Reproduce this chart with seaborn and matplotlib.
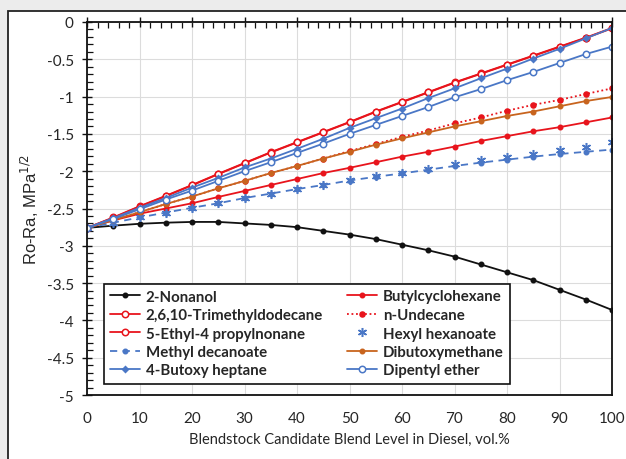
import matplotlib
matplotlib.use("Agg")
import matplotlib.pyplot as plt
import seaborn as sns
import numpy as np
from matplotlib.patches import Rectangle
from matplotlib.ticker import MultipleLocator

sns.set_style("white")
plt.rcParams["font.family"] = ["Lato", "DejaVu Sans"]

blend = [0, 5, 10, 15, 20, 25, 30, 35, 40, 45, 50, 55, 60, 65, 70, 75, 80, 85, 90, 95, 100]

nonanol = [-2.76, -2.73, -2.705, -2.69, -2.68, -2.68, -2.70, -2.72, -2.75, -2.80, -2.85,
           -2.91, -2.985, -3.06, -3.145, -3.25, -3.355, -3.46, -3.59, -3.72, -3.86]
butylcyclohexane = [-2.76, -2.66, -2.57, -2.50, -2.43, -2.345, -2.265, -2.185, -2.105, -2.025, -1.955,
                    -1.88, -1.805, -1.74, -1.67, -1.595, -1.53, -1.465, -1.41, -1.345, -1.28]
trimethyldodecane = [-2.76, -2.62, -2.47, -2.33, -2.185, -2.035, -1.89, -1.745, -1.61, -1.475, -1.34,
                     -1.20, -1.07, -0.94, -0.81, -0.69, -0.57, -0.45, -0.33, -0.21, -0.08]
undecane = [-2.76, -2.655, -2.55, -2.44, -2.34, -2.23, -2.13, -2.025, -1.93, -1.83, -1.73,
            -1.635, -1.54, -1.455, -1.36, -1.28, -1.19, -1.11, -1.045, -0.965, -0.89]
ethylpropylnonane = [-2.76, -2.625, -2.475, -2.335, -2.19, -2.04, -1.895, -1.75, -1.615, -1.48, -1.345,
                     -1.205, -1.075, -0.945, -0.815, -0.695, -0.575, -0.455, -0.335, -0.215, -0.085]
hexyl_hexanoate = [-2.76, -2.69, -2.62, -2.555, -2.49, -2.43, -2.36, -2.30, -2.24, -2.185, -2.12,
                   -2.065, -2.02, -1.97, -1.91, -1.85, -1.81, -1.77, -1.71, -1.675, -1.61]
methyl_decanoate = [-2.76, -2.69, -2.62, -2.555, -2.49, -2.43, -2.36, -2.30, -2.24, -2.185, -2.125,
                    -2.075, -2.03, -1.98, -1.93, -1.885, -1.845, -1.805, -1.77, -1.74, -1.71]
dibutoxymethane = [-2.76, -2.655, -2.55, -2.44, -2.34, -2.23, -2.13, -2.025, -1.93, -1.83, -1.74,
                   -1.645, -1.56, -1.48, -1.40, -1.33, -1.26, -1.20, -1.13, -1.06, -1.005]
butoxyheptane = [-2.76, -2.63, -2.49, -2.36, -2.22, -2.09, -1.95, -1.83, -1.70, -1.565, -1.42,
                 -1.29, -1.16, -1.02, -0.89, -0.755, -0.625, -0.49, -0.36, -0.22, -0.08]
dipentyl_ether = [-2.76, -2.64, -2.51, -2.38, -2.26, -2.13, -2.00, -1.88, -1.755, -1.63, -1.50,
                  -1.38, -1.26, -1.14, -1.01, -0.90, -0.78, -0.67, -0.55, -0.43, -0.33]

x_ticks = [0, 10, 20, 30, 40, 50, 60, 70, 80, 90, 100]
y_ticks = [0, -0.5, -1, -1.5, -2, -2.5, -3, -3.5, -4, -4.5, -5]
y_tick_labels = ["0", "-0.5", "-1", "-1.5", "-2", "-2.5", "-3", "-3.5", "-4", "-4.5", "-5"]

RED = "#e8141c"
BLUE = "#4a77c6"
ORANGE = "#c8641e"
BLACK = "#111111"

fig = plt.figure(figsize=(6.26, 4.6), dpi=100, facecolor="#ececec")
fig.patches.append(Rectangle((8 / 626, -0.1), 1.2, 1.1 - 12 / 460, transform=fig.transFigure,
                             facecolor="white", edgecolor="#222222", lw=1.3, zorder=-5))
ax = fig.add_axes([87 / 626, 1 - 396 / 460, (612 - 87) / 626, (396 - 23) / 460])
ax.set_facecolor("white")

series = [
    ("2-Nonanol", nonanol, dict(color=BLACK, marker="o", ms=3.2, mfc=BLACK, ls="-")),
    ("Butylcyclohexane", butylcyclohexane, dict(color=RED, marker="o", ms=3.2, mfc=RED, ls="-")),
    ("2,6,10-Trimethyldodecane", trimethyldodecane, dict(color=RED, marker="o", ms=4.6, mfc="white", ls="-")),
    ("n-Undecane", undecane, dict(color=RED, marker="o", ms=3.6, mfc=RED, ls=(0, (1, 1.5)))),
    ("5-Ethyl-4 propylnonane", ethylpropylnonane, dict(color=RED, marker="o", ms=4.6, mfc="white", ls="-")),
    ("Hexyl hexanoate", hexyl_hexanoate, dict(color=BLUE, marker=(6, 2, 0), ms=6.5, mfc=BLUE, ls="none")),
    ("Methyl decanoate", methyl_decanoate, dict(color=BLUE, marker="o", ms=3.2, mfc=BLUE, ls=(0, (4, 3)))),
    ("Dibutoxymethane", dibutoxymethane, dict(color=ORANGE, marker="o", ms=3.2, mfc=ORANGE, ls="-")),
    ("4-Butoxy heptane", butoxyheptane, dict(color=BLUE, marker="D", ms=3.0, mfc=BLUE, ls="-")),
    ("Dipentyl ether", dipentyl_ether, dict(color=BLUE, marker="o", ms=4.6, mfc="white", ls="-")),
]

for name, vals, st in series:
    col = st["color"]
    sns.lineplot(x=blend, y=vals, ax=ax, color=col, linestyle=st["ls"], lw=1.3,
                 marker=st["marker"], markersize=st["ms"], markerfacecolor=st["mfc"],
                 markeredgecolor=col, markeredgewidth=1.1, label=name, legend=False)

ax.set_xlim(0, 100)
ax.set_ylim(-5, 0)
ax.set_xticks(x_ticks)
ax.set_yticks(y_ticks)
ax.set_yticklabels(y_tick_labels)
ax.xaxis.set_minor_locator(MultipleLocator(2))
ax.yaxis.set_minor_locator(MultipleLocator(0.1))
ax.grid(True, which="major", color="#dcdcdc", lw=0.8)
ax.set_axisbelow(True)

ax.tick_params(axis="x", which="major", bottom=False, top=True, labelbottom=True, labeltop=False,
               direction="inout", length=7, width=1, color="#111111", labelsize=11, pad=8)
ax.tick_params(axis="x", which="minor", bottom=False, top=True, direction="in", length=4, width=0.9,
               color="#111111")
ax.tick_params(axis="y", which="major", left=True, direction="inout", length=7, width=1,
               color="#111111", labelsize=11, pad=6)
ax.tick_params(axis="y", which="minor", left=True, direction="in", length=4, width=0.9, color="#111111")
for s in ax.spines.values():
    s.set_color("#111111")
    s.set_linewidth(1.3)

ax.set_xlabel("Blendstock Candidate Blend Level in Diesel, vol.%", fontsize=10.5, labelpad=5)
ax.set_ylabel("Ro-Ra, MPa$^{1/2}$", fontsize=12, family=["Liberation Sans", "DejaVu Sans"], labelpad=4)

h, l = ax.get_legend_handles_labels()
order = ["2-Nonanol", "2,6,10-Trimethyldodecane", "5-Ethyl-4 propylnonane", "Methyl decanoate",
         "4-Butoxy heptane", "Butylcyclohexane", "n-Undecane", "Hexyl hexanoate",
         "Dibutoxymethane", "Dipentyl ether"]
hm = dict(zip(l, h))
leg = ax.legend([hm[n] for n in order], order, ncol=2, loc="lower left",
                bbox_to_anchor=(9 / 525, 4 / 373), frameon=True, fancybox=False,
                edgecolor="#111111", framealpha=1, prop=dict(weight="bold", size=10.8),
                handlelength=2.0, handletextpad=0.4, columnspacing=1.6, labelspacing=0.3,
                borderpad=0.4)
leg.get_frame().set_linewidth(1.2)

fig.savefig("out.png", dpi=100, facecolor=fig.get_facecolor())
